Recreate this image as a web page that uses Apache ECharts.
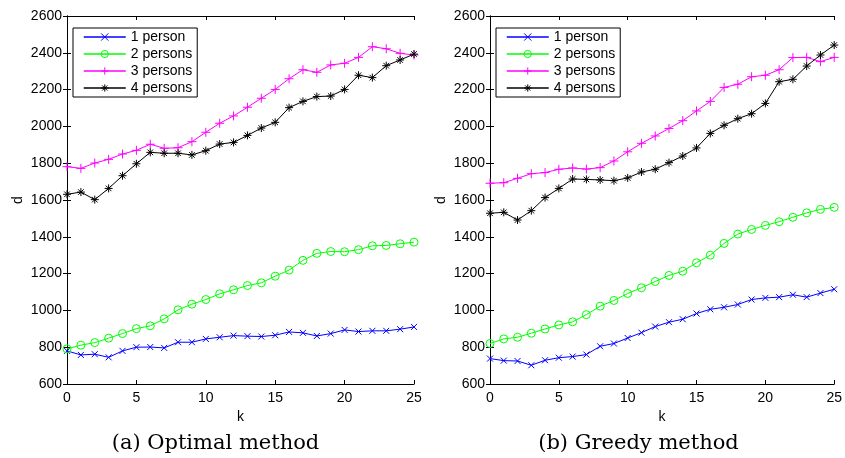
<!DOCTYPE html>
<html>
<head>
<meta charset="utf-8">
<script src="https://cdn.jsdelivr.net/npm/echarts@6/dist/echarts.min.js"></script>
<style>
  html, body { margin: 0; padding: 0; background: #fff; }
  #chart { width: 845px; height: 458px; }
</style>
</head>
<body>
<div id="chart"></div>
<script>
const kValues = [0, 1, 2, 3, 4, 5, 6, 7, 8, 9, 10, 11, 12, 13, 14, 15, 16, 17, 18, 19, 20, 21, 22, 23, 24, 25];
const seriesNames = ['1 person', '2 persons', '3 persons', '4 persons'];

// (a) Optimal method
const optimal1 = [780, 758, 762, 745, 780, 800, 801, 796, 827, 827, 845, 854, 863, 860, 858, 865, 883, 878, 861, 874, 894, 885, 889, 889, 898, 910];
const optimal2 = [791, 811, 825, 849, 874, 901, 916, 954, 1003, 1034, 1059, 1090, 1112, 1135, 1150, 1186, 1219, 1272, 1310, 1320, 1319, 1330, 1351, 1353, 1362, 1371];
const optimal3 = [1781, 1772, 1801, 1821, 1850, 1870, 1903, 1881, 1884, 1917, 1968, 2017, 2057, 2104, 2153, 2201, 2259, 2308, 2294, 2334, 2343, 2375, 2433, 2422, 2397, 2388];
const optimal4 = [1631, 1643, 1602, 1663, 1732, 1797, 1859, 1854, 1854, 1845, 1868, 1904, 1913, 1951, 1991, 2022, 2102, 2136, 2162, 2165, 2201, 2278, 2265, 2330, 2361, 2393];

// (b) Greedy method
const greedy1 = [738, 727, 725, 702, 729, 743, 749, 760, 805, 820, 850, 879, 912, 936, 952, 983, 1006, 1017, 1032, 1059, 1068, 1072, 1085, 1072, 1094, 1115];
const greedy2 = [820, 845, 854, 876, 899, 921, 938, 977, 1023, 1054, 1092, 1123, 1157, 1190, 1213, 1259, 1300, 1364, 1415, 1440, 1462, 1482, 1506, 1530, 1549, 1560];
const greedy3 = [1691, 1694, 1718, 1743, 1749, 1767, 1774, 1768, 1776, 1812, 1862, 1908, 1948, 1989, 2031, 2084, 2136, 2212, 2229, 2270, 2278, 2308, 2374, 2375, 2352, 2375];
const greedy4 = [1528, 1533, 1491, 1542, 1613, 1663, 1714, 1712, 1709, 1705, 1720, 1752, 1767, 1803, 1839, 1883, 1962, 2006, 2042, 2069, 2125, 2243, 2256, 2328, 2388, 2442];

const captions = ['(a) Optimal method', '(b) Greedy method'];

const COLORS = ['#0000ff', '#00ff00', '#ff00ff', '#000000'];
const SYMBOLS = [
  'path://M0,0L10,10M10,0L0,10',
  'circle',
  'path://M5,0L5,10M0,5L10,5',
  'path://M5,0L5,10M0,5L10,5M1.5,1.5L8.5,8.5M8.5,1.5L1.5,8.5',
];
const SIZES = [6, 8, 9, 8];

const FONT = 'Liberation Sans, Arial, sans-serif';
const GRID_LEFT = [67, 490];
const GRID_TOP = 16;
const GRID_W = 347;
const GRID_H = 368;

function pairs(values) {
  return values.map((v, i) => [kValues[i], v]);
}

function makeAxes(gridIndex) {
  const tick = { show: true, inside: true, length: 4, lineStyle: { color: '#000' } };
  const line = { show: true, lineStyle: { color: '#000', width: 1 } };
  const label = { color: '#000', fontSize: 14, fontFamily: FONT, formatter: (v) => String(v) };
  const xBase = { type: 'value', gridIndex, min: 0, max: 25, interval: 5, splitLine: { show: false }, axisLine: line, axisTick: tick };
  const yBase = { type: 'value', gridIndex, min: 600, max: 2600, interval: 200, splitLine: { show: false }, axisLine: line, axisTick: tick };
  return {
    x: [
      Object.assign({}, xBase, {
        position: 'bottom',
        axisLabel: Object.assign({ margin: 7 }, label),
        name: 'k', nameLocation: 'middle', nameGap: 25,
        nameTextStyle: { color: '#000', fontSize: 14, fontFamily: FONT },
      }),
      Object.assign({}, xBase, { position: 'top', axisLabel: { show: false } }),
    ],
    y: [
      Object.assign({}, yBase, {
        position: 'left',
        axisLabel: Object.assign({ margin: 5 }, label),
        name: 'd', nameLocation: 'middle', nameGap: 42,
        nameTextStyle: { color: '#000', fontSize: 14, fontFamily: FONT },
      }),
      Object.assign({}, yBase, { position: 'right', axisLabel: { show: false } }),
    ],
  };
}

function buildOption() {
  const panels = [
    [optimal1, optimal2, optimal3, optimal4],
    [greedy1, greedy2, greedy3, greedy4],
  ];
  const grids = [];
  const xAxes = [];
  const yAxes = [];
  const series = [];
  const legends = [];
  const graphics = [];

  panels.forEach((panel, g) => {
    grids.push({ left: GRID_LEFT[g], top: GRID_TOP, width: GRID_W, height: GRID_H, containLabel: false });
    const axes = makeAxes(g);
    const xIdx = xAxes.length;
    const yIdx = yAxes.length;
    xAxes.push(...axes.x);
    yAxes.push(...axes.y);

    panel.forEach((values, s) => {
      series.push({
        name: seriesNames[s],
        type: 'line',
        xAxisIndex: xIdx,
        yAxisIndex: yIdx,
        data: pairs(values),
        symbol: SYMBOLS[s],
        symbolSize: SIZES[s],
        showAllSymbol: true,
        lineStyle: { color: COLORS[s], width: 1 },
        itemStyle: {
          color: 'none',
          borderColor: COLORS[s],
          borderWidth: 1,
        },
        emphasis: { disabled: true },
        animation: false,
        z: 2 + s,
      });
    });

    legends.push({
      data: seriesNames,
      orient: 'vertical',
      left: GRID_LEFT[g] + 6,
      top: 28,
      itemWidth: 42,
      itemHeight: 9,
      itemGap: 3,
      padding: [2, 5, 2, 10],
      backgroundColor: '#fff',
      borderColor: '#000',
      borderWidth: 1,
      borderRadius: 0,
      selectedMode: false,
      itemStyle: { borderWidth: 1 },
      lineStyle: { width: 1.5 },
      textStyle: { color: '#000', fontSize: 14, fontFamily: FONT },
    });

    graphics.push({
      type: 'text',
      x: GRID_LEFT[g] + GRID_W / 2 - 25,
      y: 444,
      style: {
        text: captions[g],
        fill: '#000',
        font: '21px "DejaVu Serif", "Liberation Serif", serif',
        textAlign: 'center',
        textVerticalAlign: 'middle',
      },
    });
  });

  return {
    backgroundColor: '#fff',
    animation: false,
    grid: grids,
    xAxis: xAxes,
    yAxis: yAxes,
    legend: legends,
    series,
    graphic: graphics,
  };
}

document.addEventListener('DOMContentLoaded', () => {
  const chart = echarts.init(document.getElementById('chart'), null, { renderer: 'canvas' });
  chart.setOption(buildOption());
});
</script>
</body>
</html>
